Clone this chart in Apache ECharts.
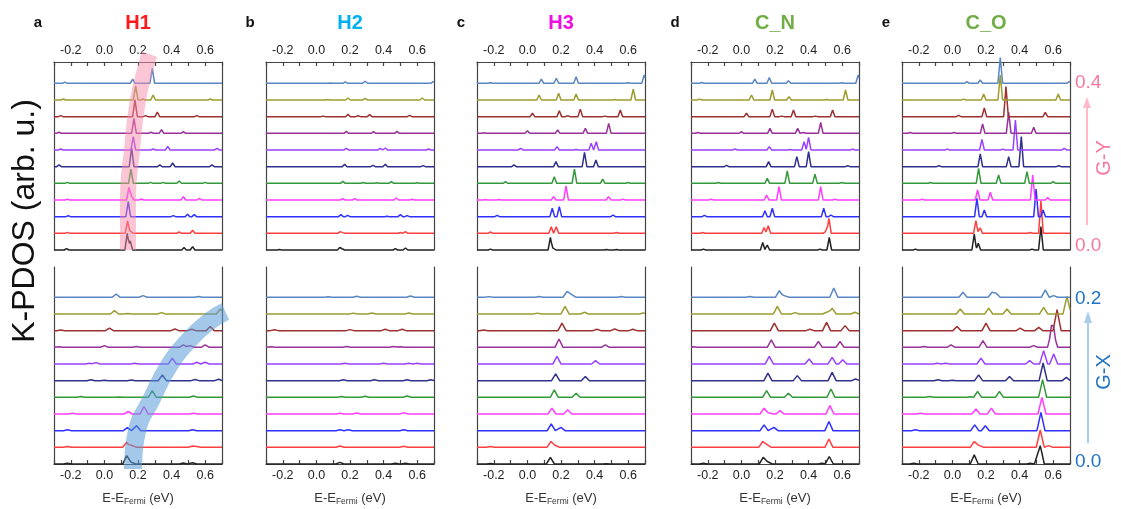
<!DOCTYPE html>
<html><head><meta charset="utf-8">
<script src="https://cdn.jsdelivr.net/npm/echarts@6/dist/echarts.min.js"></script>
<style>html,body{margin:0;padding:0;background:#fff;}#c{width:1121px;height:509px;}</style>
</head><body><div id="c"></div>
<script>
// ---- categories / labels ----
const panels = ['H1', 'H2', 'H3', 'C_N', 'C_O'];
const letters = ['a', 'b', 'c', 'd', 'e'];
const xTickLabels = ['-0.2', '0.0', '0.2', '0.4', '0.6'];
const gyLabels = ['0.0', '0.4'];
const gxLabels = ['0.0', '0.2'];

// ---- peaks per k-point curve, bottom (k=0) to top: [energy eV, height] ----
const H1_GY = [
  [[-0.225,0.08],[0.136,1.0],[0.154,0.55],[0.474,0.15],[0.525,0.2]],
  [[-0.22,0.06],[0.138,0.75],[0.158,0.25],[0.445,0.08],[0.525,0.18]],
  [[-0.215,0.05],[0.142,0.9],[0.41,0.06],[0.495,0.15],[0.535,0.12]],
  [[-0.22,0.05],[0.146,0.75],[0.162,0.3],[0.22,0.06],[0.47,0.2],[0.565,0.1]],
  [[-0.22,0.06],[0.158,0.85],[0.275,0.06],[0.35,0.06],[0.445,0.14],[0.6,0.06]],
  [[-0.27,0.1],[0.162,1.15],[0.33,0.1],[0.406,0.22],[0.64,0.1]],
  [[-0.26,0.06],[0.172,0.8],[0.29,0.06],[0.377,0.22],[0.67,0.1]],
  [[-0.27,0.06],[0.176,0.9],[0.277,0.06],[0.34,0.22],[0.47,0.1]],
  [[-0.26,0.06],[0.182,1.0],[0.245,0.06],[0.315,0.28],[0.55,0.06]],
  [[-0.245,0.06],[0.186,0.85],[0.23,0.06],[0.29,0.3],[0.63,0.06]],
  [[-0.235,0.07],[0.168,0.25],[0.285,0.9]]
];
const H1_GX = [
  [[-0.22,0.05],[0.133,0.5],[0.16,0.15],[0.47,0.06],[0.525,0.08]],
  [[-0.22,0.05],[0.133,0.3],[0.168,0.25],[0.525,0.08],[0.55,0.05]],
  [[-0.22,0.05],[0.137,0.18],[0.192,0.3],[0.525,0.06]],
  [[-0.19,0.04],[0.142,0.15],[0.236,0.45],[0.53,0.05]],
  [[-0.14,0.05],[0.09,0.02],[0.285,0.4],[0.53,0.08]],
  [[-0.08,0.05],[0.0,0.03],[0.16,0.04],[0.345,0.35],[0.54,0.07],[0.68,0.08]],
  [[-0.09,0.04],[-0.05,0.08],[0.18,0.04],[0.404,0.35],[0.55,0.1],[0.6,0.1]],
  [[-0.27,0.04],[0.0,0.1],[0.19,0.05],[0.47,0.15],[0.51,0.1],[0.6,0.15]],
  [[-0.26,0.04],[0.03,0.15],[0.42,0.1],[0.52,0.08],[0.63,0.25]],
  [[0.06,0.2],[0.14,0.03],[0.34,0.08],[0.69,0.3]],
  [[0.07,0.2],[0.23,0.1],[0.56,0.05]]
];
const H2_GY = [
  [[-0.22,0.03],[0.139,0.15],[0.154,0.08],[0.47,0.08],[0.53,0.12]],
  [[0.142,0.1],[0.158,0.05],[0.5,0.05],[0.53,0.1]],
  [[0.146,0.12],[0.186,0.08],[0.42,0.03],[0.5,0.12],[0.54,0.06]],
  [[0.156,0.08],[0.228,0.08],[0.476,0.12],[0.57,0.04]],
  [[0.158,0.12],[0.28,0.05],[0.36,0.03],[0.446,0.1],[0.6,0.03]],
  [[0.168,0.15],[0.337,0.08],[0.41,0.15],[0.635,0.06]],
  [[0.178,0.1],[0.38,0.1],[0.41,0.12],[0.668,0.06]],
  [[0.178,0.12],[0.34,0.1],[0.48,0.12]],
  [[0.04,0.03],[0.188,0.15],[0.248,0.05],[0.317,0.12],[0.555,0.08]],
  [[0.067,0.03],[0.188,0.12],[0.29,0.1],[0.63,0.12]],
  [[0.083,0.02],[0.172,0.08],[0.29,0.12],[0.695,0.1]]
];
const H2_GX = [
  [[0.14,0.1],[0.47,0.05],[0.53,0.05]],
  [[0.14,0.08],[0.52,0.06]],
  [[0.14,0.05],[0.19,0.06],[0.52,0.06]],
  [[0.14,0.05],[0.24,0.06],[0.52,0.08]],
  [[0.15,0.05],[0.29,0.06],[0.54,0.08]],
  [[0.16,0.05],[0.345,0.05],[0.54,0.05],[0.68,0.05]],
  [[0.17,0.05],[0.4,0.04],[0.55,0.05],[0.6,0.04]],
  [[-0.27,0.03],[0.18,0.05],[0.46,0.05],[0.5,0.04]],
  [[-0.25,0.05],[0.2,0.06],[0.41,0.08],[0.51,0.08]],
  [[0.22,0.05],[0.33,0.06],[0.55,0.06]],
  [[0.07,0.03],[0.24,0.06],[0.56,0.08]]
];
const H3_GY = [
  [[-0.22,0.05],[0.137,0.75],[0.156,0.2],[0.47,0.03],[0.53,0.03]],
  [[-0.22,0.08],[0.142,0.4],[0.172,0.4],[0.53,0.05]],
  [[-0.18,0.08],[0.148,0.5],[0.19,0.6],[0.51,0.1]],
  [[-0.25,0.03],[-0.17,0.03],[0.156,0.2],[0.23,0.85],[0.483,0.2],[0.57,0.05]],
  [[-0.13,0.1],[0.16,0.4],[0.28,0.85],[0.448,0.25],[0.6,0.05]],
  [[-0.08,0.1],[0.17,0.3],[0.34,0.85],[0.408,0.4]],
  [[-0.04,0.1],[0.176,0.2],[0.29,0.03],[0.38,0.4],[0.41,0.5]],
  [[-0.26,0.03],[0.0,0.15],[0.18,0.2],[0.345,0.3],[0.484,0.6]],
  [[0.03,0.2],[0.19,0.35],[0.24,0.05],[0.315,0.45],[0.46,0.03],[0.553,0.4]],
  [[0.07,0.3],[0.186,0.4],[0.29,0.35],[0.52,0.03],[0.63,0.65]],
  [[-0.22,0.03],[0.083,0.25],[0.172,0.3],[0.29,0.4],[0.6,0.03],[0.695,0.5]]
];
const H3_GX = [
  [[-0.22,0.03],[0.137,0.4],[0.47,0.02]],
  [[-0.22,0.05],[0.14,0.35],[0.168,0.15]],
  [[0.142,0.4],[0.2,0.2]],
  [[0.146,0.35],[0.24,0.25]],
  [[0.16,0.45],[0.29,0.25]],
  [[0.168,0.4],[0.345,0.25]],
  [[0.176,0.45],[0.406,0.2]],
  [[0.188,0.5],[0.464,0.15]],
  [[-0.26,0.04],[0.206,0.45],[0.414,0.08],[0.52,0.1],[0.628,0.08]],
  [[0.06,0.05],[0.224,0.45],[0.34,0.1],[0.69,0.06]],
  [[-0.23,0.04],[0.07,0.05],[0.236,0.35],[0.266,0.25],[0.56,0.05]]
];
const CN_GY = [
  [[-0.226,0.05],[0.127,0.45],[0.154,0.3],[0.468,0.05],[0.523,0.75]],
  [[-0.23,0.05],[0.135,0.35],[0.16,0.45],[0.5,0.1],[0.521,0.9]],
  [[-0.22,0.08],[0.14,0.35],[0.184,0.5],[0.49,0.5],[0.533,0.1]],
  [[-0.18,0.05],[0.15,0.3],[0.224,0.8],[0.472,0.8],[0.557,0.05]],
  [[-0.137,0.05],[0.154,0.3],[0.273,0.75],[0.438,0.55],[0.597,0.05]],
  [[-0.088,0.08],[0.162,0.3],[0.33,0.6],[0.4,0.9],[0.633,0.05]],
  [[-0.038,0.07],[0.166,0.2],[0.29,0.03],[0.373,0.5],[0.4,0.75],[0.662,0.05]],
  [[-0.26,0.05],[0.0,0.1],[0.17,0.3],[0.335,0.3],[0.37,0.05],[0.472,0.65]],
  [[0.03,0.2],[0.184,0.45],[0.24,0.03],[0.31,0.4],[0.44,0.03],[0.543,0.4]],
  [[-0.25,0.05],[0.06,0.3],[0.184,0.6],[0.283,0.2],[0.507,0.03],[0.62,0.6]],
  [[-0.237,0.05],[0.08,0.25],[0.166,0.35],[0.28,0.15],[0.597,0.03],[0.695,0.5]]
];
const CN_GX = [
  [[-0.226,0.05],[0.13,0.4],[0.16,0.2],[0.48,0.05],[0.523,0.45]],
  [[0.127,0.35],[0.154,0.2],[0.521,0.5]],
  [[0.135,0.35],[0.194,0.2],[0.521,0.55]],
  [[0.135,0.35],[0.166,0.1],[0.23,0.2],[0.527,0.5]],
  [[0.15,0.4],[0.28,0.25],[0.533,0.5]],
  [[0.158,0.45],[0.333,0.3],[0.54,0.5],[0.68,0.1]],
  [[0.166,0.45],[0.403,0.3],[0.54,0.4],[0.603,0.25]],
  [[-0.286,0.03],[0.178,0.45],[0.458,0.35],[0.587,0.35]],
  [[0.196,0.45],[0.408,0.08],[0.507,0.5],[0.617,0.3]],
  [[0.214,0.45],[0.32,0.08],[0.507,0.1],[0.54,0.35],[0.676,0.1]],
  [[0.05,0.05],[0.226,0.4],[0.26,0.2],[0.55,0.55]]
];
const CO_GY = [
  [[-0.22,0.05],[0.13,0.95],[0.154,0.4],[0.474,0.05],[0.527,1.4]],
  [[0.14,0.76],[0.166,0.32],[0.464,0.05],[0.527,1.95]],
  [[0.146,1.1],[0.19,0.4],[0.498,1.65],[0.54,0.4]],
  [[-0.18,0.05],[0.15,0.6],[0.226,0.46],[0.478,1.5],[0.567,0.15]],
  [[-0.13,0.05],[0.156,0.9],[0.275,0.5],[0.444,0.7],[0.6,0.1]],
  [[-0.08,0.05],[0.166,0.76],[0.335,0.6],[0.41,1.8],[0.633,0.05]],
  [[-0.03,0.05],[0.176,0.64],[0.3,0.05],[0.375,1.8],[0.666,0.1]],
  [[-0.25,0.05],[0.008,0.05],[0.18,0.56],[0.335,1.26],[0.484,0.36]],
  [[0.037,0.08],[0.19,0.52],[0.319,1.8],[0.553,0.26]],
  [[0.067,0.05],[0.186,0.36],[0.285,1.5],[0.63,0.36]],
  [[0.087,0.1],[0.166,0.2],[0.285,1.55],[0.695,0.1]]
];
const CO_GX = [
  [[-0.23,0.05],[0.13,0.55],[0.464,0.05],[0.523,1.1]],
  [[0.13,0.35],[0.162,0.2],[0.523,1.04],[0.573,0.1]],
  [[-0.22,0.05],[0.133,0.35],[0.196,0.3],[0.527,1.1]],
  [[-0.19,0.05],[0.14,0.3],[0.232,0.35],[0.533,1.0]],
  [[-0.135,0.05],[0.107,0.03],[0.15,0.35],[0.28,0.35],[0.537,1.06]],
  [[-0.086,0.05],[0.0,0.03],[0.156,0.35],[0.34,0.25],[0.54,1.06],[0.678,0.2]],
  [[-0.09,0.04],[-0.04,0.05],[0.17,0.35],[0.46,0.2],[0.543,0.8],[0.603,0.6]],
  [[-0.17,0.05],[-0.008,0.15],[0.182,0.4],[0.484,0.1],[0.59,0.96],[0.603,0.8]],
  [[0.027,0.25],[0.2,0.45],[0.404,0.15],[0.514,0.2],[0.623,1.26]],
  [[0.047,0.3],[0.216,0.35],[0.325,0.3],[0.543,0.4],[0.682,1.06]],
  [[0.063,0.3],[0.236,0.3],[0.26,0.25],[0.553,0.45],[0.603,0.1]]
];
// highlight bands (centre line, [energy, curve-offset units])
const pinkBand = [[0.14,0],[0.14,3],[0.164,6],[0.2,9],[0.254,11.28],[0.268,11.75]];
const blueBand = [[0.17,-0.3],[0.192,1.9],[0.283,3.93],[0.385,5.9],[0.51,7.5],[0.63,8.6],[0.72,9.15]];

// ---- styles ----
const curveColors = ['#222222','#ff3f3f','#3030ff','#ff3cff','#33993a','#30308f','#9a40ff','#993399','#9e3030','#9c9c30','#5a86c4'];
const titleColors = ['#ff1a1a','#00b0f0','#ee10e0','#70ad47','#70ad47'];
const FONT = '"Liberation Sans", Arial, sans-serif';
const gridLefts = [54, 266, 477, 691, 902];
const PW = 168, STEP = 16.67;
const rows = [
  {top: 62, height: 188, pos: 'top', hw: 0.014},
  {top: 267, height: 197, pos: 'bottom', hw: 0.024}
];
const dataSets = [[H1_GY, H2_GY, H3_GY, CN_GY, CO_GY], [H1_GX, H2_GX, H3_GX, CN_GX, CO_GX]];

function buildLine(peaks, offset, hw) {
  const xs = new Set([-0.3, 0.7]);
  peaks.forEach(([p]) => { [p - hw, p, p + hw].forEach(v => { if (v >= -0.3 && v <= 0.7) xs.add(v); }); });
  return [...xs].sort((a, b) => a - b).map(x => {
    let y = offset;
    peaks.forEach(([p, h]) => { const d = Math.abs(x - p); if (d < hw) y += h * (1 - d / hw); });
    return [x, y];
  });
}
function tickFmt(v) {
  const k = Math.round(v * 10);
  if (k % 2 === 0 && k >= -2 && k <= 6) return xTickLabels[(k + 2) / 2];
  return '';
}

const grids = [], xAxes = [], yAxes = [], series = [];
rows.forEach((r, ri) => {
  const ymax = r.height / STEP;
  gridLefts.forEach((L, pi) => {
    const gi = grids.length;
    grids.push({left: L, top: r.top, width: PW, height: r.height, containLabel: false});
    const xa = {
      type: 'value', gridIndex: gi, position: r.pos, min: -0.3, max: 0.7, interval: 0.1,
      axisLine: {show: true, onZero: false, lineStyle: {color: '#444', width: 1.2}},
      axisTick: {show: true, inside: true, length: 4, lineStyle: {color: '#444', width: 1.2}},
      axisLabel: {formatter: tickFmt, margin: 5, fontSize: 12.5, color: '#222', fontFamily: FONT},
      splitLine: {show: false}
    };
    if (ri === 1) {
      xa.name = '{a|E-E}{b|Fermi}{a| (eV)}';
      xa.nameLocation = 'middle';
      xa.nameGap = 26;
      xa.nameTextStyle = {rich: {
        a: {fontSize: 13, color: '#333', fontFamily: FONT},
        b: {fontSize: 8.5, color: '#333', fontFamily: FONT, padding: [7, 0, 0, 0]}
      }};
    }
    xAxes.push(xa);
    const yBase = {type: 'value', gridIndex: gi, min: 0, max: ymax,
      axisLine: {show: true, onZero: false, lineStyle: {color: '#444', width: 1.2}},
      axisTick: {show: false}, axisLabel: {show: false}, splitLine: {show: false}};
    yAxes.push(Object.assign({position: 'left'}, yBase));
    yAxes.push(Object.assign({position: 'right'}, yBase));
    dataSets[ri][pi].forEach((peaks, ci) => {
      series.push({
        type: 'line', xAxisIndex: gi, yAxisIndex: 2 * gi, data: buildLine(peaks, ci, r.hw),
        symbol: 'none', clip: false, silent: true, animation: false, z: 2,
        lineStyle: {color: curveColors[ci], width: 1.5}
      });
    });
  });
});
// bands in panel a
series.push({type: 'line', xAxisIndex: 0, yAxisIndex: 0, data: pinkBand, smooth: true, symbol: 'none',
  clip: false, silent: true, z: 3, lineStyle: {color: 'rgba(245,140,170,0.5)', width: 16, cap: 'butt'}});
series.push({type: 'line', xAxisIndex: 5, yAxisIndex: 10, data: blueBand, smooth: true, symbol: 'none',
  clip: false, silent: true, z: 3, lineStyle: {color: 'rgba(90,155,215,0.55)', width: 18, cap: 'butt'}});

const pink = '#f7789e', blue = '#1f74c4';
const graphic = [];
gridLefts.forEach((L, pi) => {
  graphic.push({type: 'text', x: L - 16, y: 23, style: {text: letters[pi], font: 'bold 15px ' + FONT, fill: '#111', textAlign: 'center', textVerticalAlign: 'middle'}});
  graphic.push({type: 'text', x: L + PW / 2, y: 23, style: {text: panels[pi], font: 'bold 20px ' + FONT, fill: titleColors[pi], textAlign: 'center', textVerticalAlign: 'middle'}});
});
graphic.push({type: 'text', x: 25, y: 221, rotation: Math.PI / 2, style: {text: 'K-PDOS (arb. u.)', font: '32px ' + FONT, fill: '#111', textAlign: 'center', textVerticalAlign: 'middle'}});
graphic.push({type: 'text', x: 1075, y: 83, style: {text: gyLabels[1], font: '19px ' + FONT, fill: pink, textAlign: 'left', textVerticalAlign: 'middle'}});
graphic.push({type: 'text', x: 1075, y: 246, style: {text: gyLabels[0], font: '19px ' + FONT, fill: pink, textAlign: 'left', textVerticalAlign: 'middle'}});
graphic.push({type: 'text', x: 1075, y: 299, style: {text: gxLabels[1], font: '19px ' + FONT, fill: blue, textAlign: 'left', textVerticalAlign: 'middle'}});
graphic.push({type: 'text', x: 1075, y: 462, style: {text: gxLabels[0], font: '19px ' + FONT, fill: blue, textAlign: 'left', textVerticalAlign: 'middle'}});
graphic.push({type: 'text', x: 1104, y: 158, rotation: Math.PI / 2, style: {text: 'G-Y', font: '20px ' + FONT, fill: pink, textAlign: 'center', textVerticalAlign: 'middle'}});
graphic.push({type: 'text', x: 1104, y: 372, rotation: Math.PI / 2, style: {text: 'G-X', font: '20px ' + FONT, fill: blue, textAlign: 'center', textVerticalAlign: 'middle'}});
// arrows
graphic.push({type: 'line', shape: {x1: 1087, y1: 225, x2: 1087, y2: 106}, style: {stroke: '#ffb9cb', lineWidth: 2}});
graphic.push({type: 'polygon', shape: {points: [[1087, 97], [1083, 108], [1091, 108]]}, style: {fill: '#ffb9cb'}});
graphic.push({type: 'line', shape: {x1: 1088, y1: 443, x2: 1088, y2: 321}, style: {stroke: '#a9cde9', lineWidth: 2}});
graphic.push({type: 'polygon', shape: {points: [[1088, 311], [1084, 323], [1092, 323]]}, style: {fill: '#a9cde9'}});

const chart = echarts.init(document.getElementById('c'), null, {renderer: 'canvas'});
chart.setOption({animation: false, backgroundColor: '#fff', grid: grids, xAxis: xAxes, yAxis: yAxes, series: series, graphic: graphic});
</script></body></html>
